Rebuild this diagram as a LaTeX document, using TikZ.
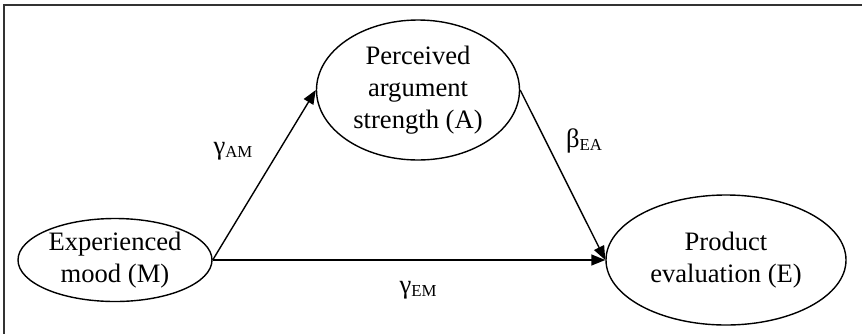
\documentclass[tikz,border=0pt]{standalone}
\usepackage{fontspec}
\setmainfont{Liberation Serif}
\usetikzlibrary{shapes.geometric, arrows.meta}

\newcommand{\coefsub}[1]{\raisebox{-0.25ex}{\fontsize{8.4}{9}\selectfont #1}}

\begin{document}
\begin{tikzpicture}[x=0.5pt, y=-0.5pt,
    construct/.style={draw, ellipse, line width=0.7pt, inner sep=0pt, align=center,
        font=\fontsize{13.3}{16}\selectfont},
    path/.style={-{Triangle[length=7pt, width=5.5pt]}, line width=0.7pt},
    coef/.style={font=\fontsize{13.3}{16}\selectfont}]
    % Moldura
    \useasboundingbox (0,0) rectangle (862,333);
    \clip (0,0) rectangle (862,333);
    \draw[line width=0.7pt, black!80] (4,5) rectangle (880,350);

    % Construtos
    \node[construct, minimum width=97pt, minimum height=41.5pt] (M) at (115,260) {Experienced\\mood (M)};
    \node[construct, minimum width=101.5pt, minimum height=70pt] (A) at (418,90) {Perceived\\argument\\strength (A)};
    \node[construct, minimum width=120pt, minimum height=65pt] (E) at (726,260) {Product\\evaluation (E)};

    % Caminhos
    \draw[path] (M.east) -- (A.west);
    \draw[path] (A.east) -- (E.west);
    \draw[path] (M.east) -- (E.west);

    % Coeficientes
    \node[coef] (gAM) at (233,151) {γ\coefsub{AM}};
    \node[coef] (bEA) at (584,141) {β\coefsub{EA}};
    \node[coef] (gEM) at (418,290) {γ\coefsub{EM}};
\end{tikzpicture}
\end{document}
